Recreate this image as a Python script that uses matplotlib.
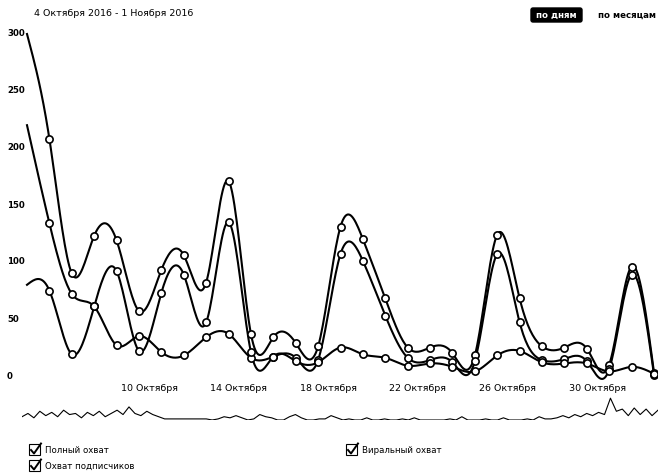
import numpy as np
import pandas as pd
import matplotlib
matplotlib.use('Agg')
import matplotlib.pyplot as plt
import matplotlib.dates as mdates
import matplotlib.transforms as mtransforms
from matplotlib.patches import FancyBboxPatch, Rectangle

# daily points (Oct 4 - Nov 1)
dates = pd.date_range('2016-10-04 13:00', periods=29, freq='D')
full_reach = [300, 208, 90, 123, 119, 57, 93, 106, 82, 171, 37, 34, 29, 26, 131,
              120, 68, 25, 25, 20, 18, 124, 68, 26, 25, 24, 10, 96, 3]
viral_reach = [220, 134, 72, 61, 27, 35, 21, 18, 34, 37, 16, 17, 16, 14, 107,
               101, 53, 16, 14, 12, 13, 107, 47, 14, 15, 13, 6, 89, 1]
subs_reach = [80, 75, 19, 61, 92, 22, 73, 89, 47, 135, 21, 17, 13, 12, 25,
              19, 16, 9, 11, 8, 4, 18, 22, 12, 11, 11, 4, 8, 2]

tick_dates = ['2016-10-10', '2016-10-14', '2016-10-18', '2016-10-22', '2016-10-26', '2016-10-30']
tick_labels = ['10 Октября', '14 Октября', '18 Октября', '22 Октября', '26 Октября', '30 Октября']
y_ticks = [0, 50, 100, 150, 200, 250, 300]

# overview strip under the chart (rough heights)
nav_values = [3, 6, 2, 8, 4, 7, 3, 9, 5, 6, 2, 7, 4, 8, 3, 6, 9, 5, 12, 6, 4, 8, 5, 3,
              1, 1, 1, 1, 1, 1, 1, 1,
              0, 1, 3, 2, 4, 2, 0, 1, 5, 3, 2, 0, 0, 3, 5, 2, 0, 0, 1, 1, 4, 2, 0, 1,
              0, 0, 2, 0, 0, 1, 0, 0, 1, 0, 2, 0, 0, 0, 0, 0, 1, 0, 3, 0, 0, 0, 1, 0,
              0, 2, 0, 0, 0, 1, 0, 3, 1, 1, 2,
              4, 2, 5, 3, 6, 4, 7, 5, 20, 8, 10, 4, 11, 5, 10, 4, 9]

legend_labels = ['Полный охват', 'Виральный охват', 'Охват подписчиков']


def smooth(xs, ys, steps=20):
    # natural cubic spline through evenly spaced points
    xs = np.asarray(xs, float)
    ys = np.asarray(ys, float)
    n = len(ys)
    A = np.zeros((n, n))
    b = np.zeros(n)
    A[0, 0] = A[-1, -1] = 1
    for i in range(1, n - 1):
        A[i, i - 1], A[i, i], A[i, i + 1] = 1, 4, 1
        b[i] = 6 * (ys[i + 1] - 2 * ys[i] + ys[i - 1])
    M = np.linalg.solve(A, b)
    t = np.linspace(0, 1, steps)
    out_x, out_y = [], []
    for i in range(n - 1):
        out_x.append(xs[i] + (xs[i + 1] - xs[i]) * t)
        out_y.append((1 - t) * ys[i] + t * ys[i + 1]
                     + ((1 - t)**3 - (1 - t)) * M[i] / 6 + (t**3 - t) * M[i + 1] / 6)
    return np.concatenate(out_x), np.concatenate(out_y)


W, H = 658, 473
fig = plt.figure(figsize=(W / 100, H / 100), dpi=100)
font = 'DejaVu Sans'
fs = 6.2
fs_axis = 6.8

ax = fig.add_axes([27 / W, 1 - 376 / H, (654 - 27) / W, (376 - 34) / H])
xnum = mdates.date2num(dates)
for series in [full_reach, viral_reach, subs_reach]:
    sx, sy = smooth(xnum, series)
    ax.plot(sx, sy, color='black', lw=1.5, clip_on=False, zorder=2)
    ax.plot(xnum[1:], series[1:], ls='none', marker='o', ms=5.2, mfc='white',
            mec='black', mew=1.2, clip_on=False, zorder=3)

ax.set_xlim(xnum[0], xnum[-1])
ax.set_ylim(0, 300)
ax.set_xticks(mdates.date2num(pd.to_datetime(tick_dates)))
ax.set_xticklabels(tick_labels, fontsize=fs_axis, family=font)
ax.tick_params(axis='x', length=0, pad=6)
ax.set_yticks([])
for s in ax.spines.values():
    s.set_visible(False)

ytrans = mtransforms.blended_transform_factory(fig.transFigure, ax.transData)
for v in y_ticks:
    ax.text(7 / W, v, str(v), transform=ytrans, fontsize=fs, family=font,
            ha='left', va='center', fontweight='bold')

# overview strip
nav = fig.add_axes([22 / W, 1 - 420 / H, 636 / W, 24 / H])
nav.plot(np.arange(len(nav_values)), nav_values, color='black', lw=0.8)
nav.set_xlim(0, len(nav_values) - 1)
nav.set_ylim(0, 22)
nav.axis('off')

# header, buttons and legend in pixel space
ov = fig.add_axes([0, 0, 1, 1], facecolor='none')
ov.set_xlim(0, W)
ov.set_ylim(H, 0)
ov.axis('off')

ov.text(34, 14, '4 Октября 2016 - 1 Ноября 2016', fontsize=fs_axis, family=font,
        ha='left', va='center')
ov.add_patch(FancyBboxPatch((531, 8), 51, 14, boxstyle='round,pad=0,rounding_size=2',
                            fc='black', ec='black'))
ov.text(556.5, 15, 'по дням', fontsize=fs, family=font, color='white',
        ha='center', va='center', fontweight='bold')
ov.text(598, 15, 'по месяцам', fontsize=fs, family=font, ha='left', va='center',
        fontweight='bold')

legend_pos = [(29, 450), (346, 450), (29, 466)]
for (lx, ly), label in zip(legend_pos, legend_labels):
    ov.add_patch(Rectangle((lx, ly - 6), 11, 11, fill=False, ec='black', lw=0.8))
    ov.plot([lx + 2, lx + 5, lx + 12], [ly, ly + 3.5, ly - 6.5], color='black', lw=1.4)
    ov.text(lx + 16, ly, label, fontsize=fs, family=font, ha='left', va='center')

fig.savefig('out.png', dpi=100, facecolor='white')
